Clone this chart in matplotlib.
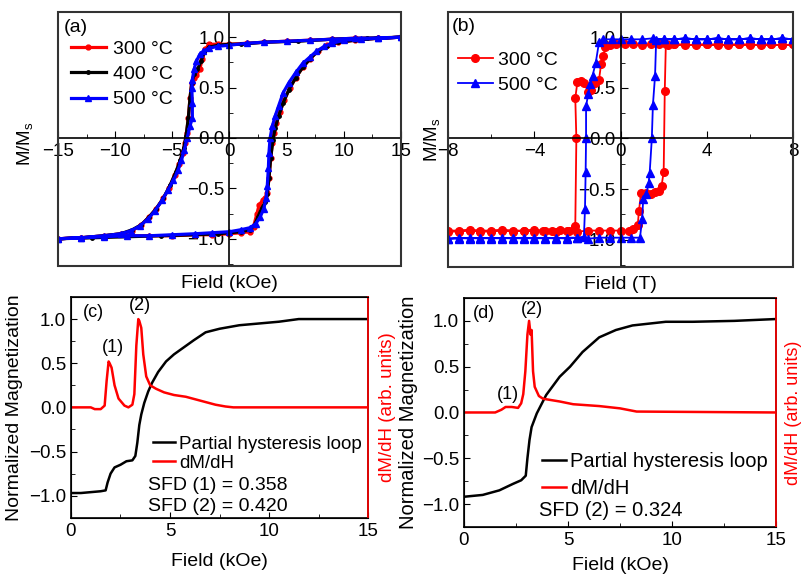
# hysteresis loops (a,b) and partial loops with switching field distribution (c,d)

import matplotlib
matplotlib.use('Agg')
import matplotlib.pyplot as plt
from matplotlib.ticker import MultipleLocator

plt.rcParams['font.family'] = ['Liberation Sans', 'DejaVu Sans']
plt.rcParams['mathtext.fontset'] = 'custom'
plt.rcParams['mathtext.rm'] = 'Liberation Sans'
plt.rcParams['font.size'] = 12

#%% data, panel (a): field in kOe, M/Ms  (descending branch then ascending branch)
H_300 = [15, 13, 11, 9, 7, 5, 3, 1.5, 0, -1, -1.8, -2.1, -2.4, -2.6, -2.9, -3.1, -3.3, -3.45, -3.6,
         -3.75, -3.9, -4.1, -4.4, -4.8, -5.3, -5.8, -6.4, -7.0, -7.7, -8.5, -9.5, -11, -13, -15,
         -15, -13, -11, -9, -7, -5, -3, -1.5, 0, 1, 1.8, 2.1, 2.4, 2.6, 2.9, 3.1, 3.3, 3.45, 3.6,
         3.75, 3.9, 4.1, 4.4, 4.8, 5.3, 5.8, 6.4, 7.0, 7.7, 8.5, 9.5, 11, 13, 15]
M_300 = [1.0, 0.99, 0.99, 0.98, 0.97, 0.96, 0.95, 0.94, 0.93, 0.93, 0.93, 0.88, 0.78, 0.68, 0.62, 0.6,
         0.55, 0.4, 0.2, 0.05, -0.05, -0.15, -0.26, -0.37, -0.5, -0.6, -0.7, -0.78, -0.86, -0.92,
         -0.95, -0.97, -0.99, -1.0,
         -1.0, -0.99, -0.98, -0.97, -0.97, -0.97, -0.96, -0.96, -0.95, -0.94, -0.93, -0.88, -0.75,
         -0.66, -0.62, -0.6, -0.55, -0.4, -0.2, -0.05, 0.05, 0.15, 0.26, 0.38, 0.5, 0.6, 0.7, 0.78,
         0.86, 0.92, 0.95, 0.97, 0.99, 1.0]

H_400 = [15, 12, 9, 6, 3, 1, 0, -1, -1.8, -2.2, -2.5, -2.8, -3.1, -3.3, -3.45, -3.6, -3.8, -4.0,
         -4.3, -4.7, -5.2, -5.8, -6.4, -7.0, -7.7, -8.5, -9.5, -11, -13, -15,
         -15, -12, -9, -6, -3, -1, 0, 1, 1.8, 2.2, 2.5, 2.8, 3.1, 3.3, 3.45, 3.6, 3.8, 4.0,
         4.3, 4.7, 5.2, 5.8, 6.4, 7.0, 7.7, 8.5, 9.5, 11, 13, 15]
M_400 = [1.0, 0.99, 0.98, 0.96, 0.95, 0.93, 0.93, 0.92, 0.9, 0.85, 0.76, 0.68, 0.63, 0.55, 0.4,
         0.2, 0.02, -0.1, -0.22, -0.34, -0.47, -0.6, -0.7, -0.78, -0.86, -0.91, -0.95, -0.97,
         -0.99, -1.0,
         -1.0, -0.99, -0.98, -0.97, -0.96, -0.95, -0.94, -0.93, -0.91, -0.86, -0.78, -0.7, -0.64,
         -0.56, -0.4, -0.2, -0.02, 0.1, 0.22, 0.35, 0.48, 0.6, 0.7, 0.78, 0.86, 0.91, 0.95, 0.97,
         0.99, 1.0]

H_500 = [15, 13, 11, 9, 7, 5, 3, 1.5, 0, -1, -1.8, -2.3, -2.6, -2.9, -3.1, -3.25, -3.3, -3.25,
         -3.25, -3.45, -3.7, -3.95, -4.2, -4.5, -4.9, -5.4, -5.9, -6.5, -7.1, -7.8, -8.6, -9.5,
         -11, -13, -15,
         -15, -13, -11, -9, -7, -5, -3, -1.5, 0, 1, 1.8, 2.3, 2.7, 3.0, 3.2, 3.3, 3.4, 3.45, 3.55,
         3.75, 4.0, 4.3, 4.7, 5.2, 5.8, 6.4, 7.0, 7.6, 8.3, 9.0, 10, 11.5, 13, 15]
M_500 = [1.0, 0.99, 0.99, 0.98, 0.97, 0.96, 0.95, 0.94, 0.92, 0.91, 0.89, 0.86, 0.83, 0.76, 0.68,
         0.58, 0.5, 0.35, 0.2, 0.12, 0.0, -0.12, -0.22, -0.32, -0.42, -0.52, -0.62, -0.72, -0.8,
         -0.87, -0.92, -0.95, -0.97, -0.99, -1.0,
         -1.0, -0.99, -0.98, -0.97, -0.97, -0.96, -0.95, -0.94, -0.93, -0.91, -0.89, -0.85, -0.78,
         -0.7, -0.6, -0.48, -0.3, -0.15, 0.0, 0.12, 0.22, 0.32, 0.45, 0.55, 0.65, 0.74, 0.8, 0.86,
         0.91, 0.94, 0.97, 0.98, 0.99, 1.0]

#%% data, panel (b): field in T
B_300 = [8, 7.5, 7, 6.5, 6, 5.5, 5, 4.5, 4, 3.5, 3, 2.5, 2.2, 1.8, 1.4, 1, 0.6, 0.2, -0.2, -0.5,
         -0.7, -0.8, -0.9, -1.0, -1.2, -1.35, -1.5, -1.7, -1.85, -2.0, -2.1, -2.05, -2.1, -2.4,
         -2.8, -3.2, -3.6, -4, -4.5, -5, -5.5, -6, -6.5, -7, -7.5, -8,
         -8, -7.5, -7, -6.5, -6, -5.5, -5, -4.5, -4, -3.5, -3, -2.5, -2, -1.5, -1, -0.5, 0, 0.4,
         0.6, 0.8, 0.85, 0.95, 1.2, 1.4, 1.6, 1.8, 1.9, 2.0, 2.05, 2.1, 2.5, 3, 3.5, 4, 4.5, 5,
         5.5, 6, 6.5, 7, 7.5, 8]
N_300 = [0.93, 0.92, 0.93, 0.92, 0.93, 0.93, 0.92, 0.93, 0.93, 0.92, 0.93, 0.93, 0.92, 0.93, 0.93,
         0.92, 0.93, 0.93, 0.93, 0.92, 0.9, 0.82, 0.74, 0.58, 0.55, 0.48, 0.46, 0.55, 0.57, 0.56,
         0.4, 0.0, -0.86, -0.91, -0.9, -0.91, -0.91, -0.9, -0.91, -0.91, -0.9, -0.91, -0.91, -0.9,
         -0.91, -0.91,
         -0.92, -0.92, -0.91, -0.92, -0.92, -0.91, -0.92, -0.91, -0.92, -0.91, -0.92, -0.91, -0.92,
         -0.91, -0.91, -0.91, -0.91, -0.91, -0.89, -0.85, -0.72, -0.54, -0.54, -0.55, -0.53, -0.52,
         -0.47, -0.33, 0.47, 0.93, 0.93, 0.92, 0.93, 0.93, 0.92, 0.93, 0.93, 0.92, 0.93, 0.93, 0.92,
         0.93]

B_500 = [8, 7.5, 7, 6.5, 6, 5.5, 5, 4.5, 4, 3.5, 3, 2.5, 2, 1.5, 1, 0.5, 0, -0.4, -0.8, -1.0,
         -1.15, -1.3, -1.4, -1.5, -1.6, -1.6, -1.62, -1.65, -1.7, -2.0, -2.5, -3, -3.5, -4, -4.5,
         -5, -5.5, -6, -6.5, -7, -7.5, -8,
         -8, -7.5, -7, -6.5, -6, -5.5, -5, -4.5, -4, -3.5, -3, -2.5, -2, -1.5, -1, -0.5, 0, 0.5,
         0.9, 1.0, 1.05, 1.2, 1.3, 1.35, 1.45, 1.5, 1.6, 1.65, 2.0, 2.5, 3, 3.5, 4, 4.5, 5, 5.5,
         6, 6.5, 7, 7.5, 8]
N_500 = [0.98, 0.99, 0.98, 0.98, 0.99, 0.98, 0.98, 0.99, 0.98, 0.98, 0.99, 0.98, 0.98, 0.99, 0.98,
         0.98, 0.98, 0.98, 0.98, 0.95, 0.75, 0.62, 0.54, 0.44, 0.32, 0.0, -0.33, -0.7, -0.97, -0.98,
         -0.99, -0.98, -0.99, -0.98, -0.99, -0.98, -0.99, -0.98, -0.99, -0.98, -0.99, -0.99,
         -0.99, -0.98, -0.99, -0.98, -0.99, -0.98, -0.99, -0.98, -0.99, -0.98, -0.99, -0.98, -0.98,
         -0.99, -0.98, -0.98, -0.98, -0.98, -0.98, -0.8, -0.6, -0.55, -0.44, -0.34, 0.0, 0.33,
         0.62, 0.97, 0.98, 0.98, 0.99, 0.98, 0.98, 0.99, 0.98, 0.98, 0.99, 0.98, 0.98, 0.99, 0.98]

#%% data, panels (c) and (d): partial loop and dM/dH, field in kOe
Hc_loop = [0, 0.5, 1.0, 1.5, 1.75, 1.85, 2.0, 2.2, 2.5, 2.8, 3.1, 3.25, 3.35, 3.45, 3.55, 3.7, 3.9,
           4.1, 4.4, 4.8, 5.2, 5.7, 6.2, 6.8, 7.5, 8.5, 9.5, 10.5, 11.5, 12.5, 15]
Mc_loop = [-0.97, -0.97, -0.96, -0.95, -0.94, -0.85, -0.75, -0.68, -0.65, -0.61, -0.6, -0.55, -0.4,
           -0.2, -0.08, 0.05, 0.18, 0.28, 0.4, 0.52, 0.6, 0.68, 0.76, 0.85, 0.89, 0.93, 0.95,
           0.97, 1.0, 1.0, 1.0]
Hc_dmdh = [0, 1.0, 1.2, 1.5, 1.7, 1.8, 1.9, 1.95, 2.05, 2.2, 2.4, 2.7, 2.9, 3.1, 3.2, 3.3, 3.4,
           3.45, 3.55, 3.65, 3.8, 4.0, 4.3, 4.7, 5.2, 5.8, 6.3, 6.8, 7.3, 7.8, 8.2, 10, 15]
Dc_dmdh = [0, 0, -0.02, -0.02, 0.02, 0.3, 0.52, 0.5, 0.45, 0.25, 0.1, 0.02, 0.0, 0.03, 0.15, 0.7,
           1.0, 0.98, 0.9, 0.6, 0.35, 0.25, 0.21, 0.17, 0.14, 0.12, 0.09, 0.06, 0.03, 0.01, 0.0,
           0.0, 0.0]

Hd_loop = [0, 0.9, 1.7, 2.35, 2.75, 2.97, 3.05, 3.15, 3.25, 3.5, 3.95, 4.6, 5.1, 5.7, 6.5, 7.3,
           8.1, 9.7, 11, 13, 15]
Md_loop = [-0.92, -0.9, -0.85, -0.78, -0.74, -0.69, -0.5, -0.3, -0.16, -0.01, 0.19, 0.39, 0.5,
           0.66, 0.82, 0.9, 0.95, 0.99, 0.99, 1.0, 1.02]
Hd_dmdh = [0, 1.5, 1.8, 2.0, 2.3, 2.6, 2.75, 2.85, 2.95, 3.05, 3.13, 3.2, 3.25, 3.32, 3.4, 3.6,
           3.8, 4.6, 5.25, 6.5, 7.5, 8.3, 15]
Dd_dmdh = [0, 0, 0.03, 0.06, 0.06, 0.05, 0.1, 0.2, 0.45, 0.85, 1.0, 0.85, 0.9, 0.45, 0.28, 0.18,
           0.15, 0.12, 0.09, 0.07, 0.045, 0.01, 0.0]

#%% helpers
def centre_axes(ax):
    # axes crossing at the origin, plus a closed frame
    for s in ['left', 'bottom']:
        ax.spines[s].set_position(('data', 0))
        ax.spines[s].set_linewidth(1.2)
    ax.spines['top'].set_visible(False)
    ax.spines['right'].set_visible(False)
    ax.add_patch(plt.Rectangle((0, 0), 1, 1, transform=ax.transAxes, fill=False,
                               lw=1.5, ec='#333333', clip_on=False, zorder=5))
    ax.tick_params(which='both', direction='in', labelsize=13.5)
    ax.tick_params(which='major', length=5)
    ax.tick_params(which='minor', length=3)
    ax.set_ylim(-1.27, 1.25)
    ax.yaxis.set_major_locator(MultipleLocator(0.5))
    ax.yaxis.set_minor_locator(MultipleLocator(0.25))


def sfd_axes(ax):
    ax.set_xlim(0, 15)
    ax.set_ylim(-1.25, 1.25)
    ax.xaxis.set_major_locator(MultipleLocator(5))
    ax.xaxis.set_minor_locator(MultipleLocator(2.5))
    ax.yaxis.set_major_locator(MultipleLocator(0.5))
    ax.yaxis.set_minor_locator(MultipleLocator(0.25))
    ax.tick_params(which='both', direction='in', labelsize=13.5, top=False, right=False)
    ax.tick_params(which='major', length=4)
    ax.tick_params(which='minor', length=3)
    for s in ax.spines.values():
        s.set_linewidth(1.2)
    ax2 = ax.twinx()
    ax2.set_ylim(-1.25, 1.25)
    ax2.set_yticks([])
    ax2.spines['right'].set_color('red')
    ax2.spines['right'].set_linewidth(1.2)
    return ax2


#%% make plot
fig = plt.figure(figsize=(8.03, 5.74), dpi=100)
ax1 = fig.add_axes([0.0722, 0.5366, 0.4272, 0.4425])
ax2 = fig.add_axes([0.558, 0.5348, 0.4296, 0.4443])
ax3 = fig.add_axes([0.0884, 0.0980, 0.3699, 0.3846])
ax4 = fig.add_axes([0.5778, 0.0819, 0.3886, 0.3990])

# (a)
ax1.plot(H_300, M_300, color='red', lw=2.3, marker='o', ms=3.5, label='300 °C')
ax1.plot(H_400, M_400, color='black', lw=2.3, marker='o', ms=2.5, label='400 °C')
ax1.plot(H_500, M_500, color='blue', lw=2.3, marker='^', ms=4.5, label='500 °C')
ax1.set_xlim(-15, 15)
ax1.xaxis.set_major_locator(MultipleLocator(5))
ax1.xaxis.set_minor_locator(MultipleLocator(2.5))
centre_axes(ax1)
ax1.legend(loc='upper left', bbox_to_anchor=(0.015, 0.92), frameon=False, handlelength=1.8,
           handletextpad=0.35, labelspacing=0.4, borderaxespad=0, fontsize=14)
ax1.text(0.018, 0.94, '(a)', transform=ax1.transAxes, fontsize=14, va='center')
ax1.set_xlabel('Field (kOe)', fontsize=14)
ax1.xaxis.set_label_coords(0.5, -0.035)
ax1.set_ylabel('M/M$_\\mathregular{s}$', fontsize=13.5)
ax1.yaxis.set_label_coords(-0.065, 0.48)

# (b)
ax2.plot(B_300, N_300, color='red', lw=1.3, marker='o', ms=5.5, label='300 °C')
ax2.plot(B_500, N_500, color='blue', lw=1.3, marker='^', ms=6, label='500 °C')
ax2.set_xlim(-8, 8)
ax2.xaxis.set_major_locator(MultipleLocator(4))
ax2.xaxis.set_minor_locator(MultipleLocator(2))
centre_axes(ax2)
ax2.legend(loc='upper left', bbox_to_anchor=(0.005, 0.875), frameon=False, handlelength=1.8,
           handletextpad=0.3, labelspacing=0.35, borderaxespad=0, fontsize=14)
ax2.text(0.012, 0.945, '(b)', transform=ax2.transAxes, fontsize=14, va='center')
ax2.set_xlabel('Field (T)', fontsize=14)
ax2.xaxis.set_label_coords(0.5, -0.035)
ax2.set_ylabel('M/M$_\\mathregular{s}$', fontsize=13.5)
ax2.yaxis.set_label_coords(-0.015, 0.5)

# (c)
ax3r = sfd_axes(ax3)
l1, = ax3.plot(Hc_loop, Mc_loop, color='black', lw=1.8, label='Partial hysteresis loop')
l2, = ax3r.plot(Hc_dmdh, Dc_dmdh, color='red', lw=1.8, label='dM/dH')
ax3.legend(handles=[l1, l2], loc='lower left', bbox_to_anchor=(0.25, 0.173), frameon=False,
           handlelength=1.2, handletextpad=0.2, labelspacing=0.1, borderaxespad=0, fontsize=13.5)
ax3.text(0.26, 0.148, 'SFD (1) = 0.358', transform=ax3.transAxes, fontsize=14, va='center')
ax3.text(0.26, 0.053, 'SFD (2) = 0.420', transform=ax3.transAxes, fontsize=14, va='center')
ax3.text(0.04, 0.93, '(c)', transform=ax3.transAxes, fontsize=13, va='center')
ax3r.text(2.1, 0.68, '(1)', fontsize=13, ha='center', va='center')
ax3r.text(3.5, 1.15, '(2)', fontsize=13, ha='center', va='center')
ax3.set_xlabel('Field (kOe)', fontsize=14)
ax3.xaxis.set_label_coords(0.5, -0.16)
ax3.set_ylabel('Normalized Magnetization', fontsize=14)
ax3.yaxis.set_label_coords(-0.16, 0.5)
ax3r.set_ylabel('dM/dH (arb. units)', color='red', fontsize=13.5)
ax3r.yaxis.set_label_coords(1.037, 0.5)

# (d)
ax4r = sfd_axes(ax4)
l1, = ax4.plot(Hd_loop, Md_loop, color='black', lw=1.8, label='Partial hysteresis loop')
l2, = ax4r.plot(Hd_dmdh, Dd_dmdh, color='red', lw=1.8, label='dM/dH')
ax4.legend(handles=[l1, l2], loc='lower left', bbox_to_anchor=(0.225, 0.09), frameon=False,
           handlelength=1.2, handletextpad=0.2, labelspacing=0.4, borderaxespad=0, fontsize=14.5)
ax4.text(0.24, 0.07, 'SFD (2) = 0.324', transform=ax4.transAxes, fontsize=14.5, va='center')
ax4.text(0.03, 0.93, '(d)', transform=ax4.transAxes, fontsize=13, va='center')
ax4r.text(2.1, 0.2, '(1)', fontsize=13, ha='center', va='center')
ax4r.text(3.25, 1.12, '(2)', fontsize=13, ha='center', va='center')
ax4.set_xlabel('Field (kOe)', fontsize=14)
ax4.xaxis.set_label_coords(0.5, -0.131)
ax4.set_ylabel('Normalized Magnetization', fontsize=14.5)
ax4.yaxis.set_label_coords(-0.147, 0.5)
ax4r.set_ylabel('dM/dH (arb. units)', color='red', fontsize=13)
ax4r.yaxis.set_label_coords(1.03, 0.5)

fig.savefig('out.png', dpi=100)
plt.close()
